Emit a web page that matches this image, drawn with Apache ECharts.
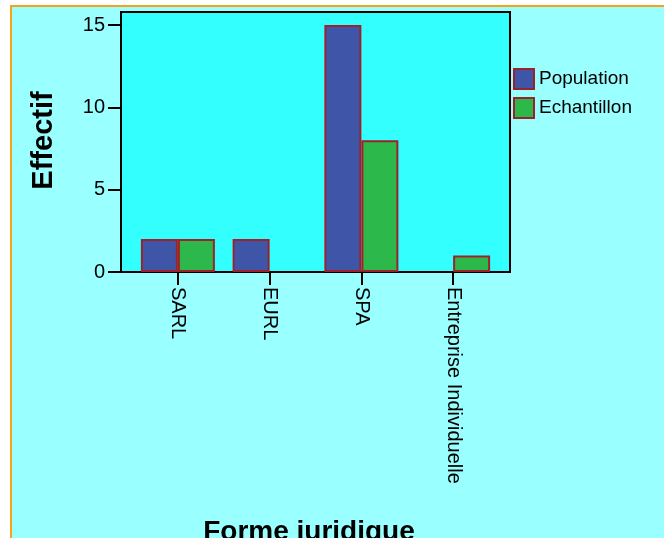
<!DOCTYPE html>
<html>
<head>
<meta charset="utf-8">
<script src="https://cdn.jsdelivr.net/npm/echarts@6/dist/echarts.min.js"></script>
<style>
html,body{margin:0;padding:0;background:#ffffff;width:664px;height:538px;overflow:hidden;}
#wrap{position:absolute;left:10px;top:5px;width:660px;height:540px;background:#99ffff;border-left:2px solid #f7a21b;border-top:2px solid #f7a21b;}
#chart{position:absolute;left:0;top:0;width:664px;height:538px;}
</style>
</head>
<body>
<div id="wrap"></div>
<div id="chart"></div>
<script>
var categories = ['SARL', 'EURL', 'SPA', 'Entreprise Individuelle'];
var population = [2, 2, 15, null];
var echantillon = [2, null, 8, 1];
var seriesNames = ['Population', 'Echantillon'];
var yTitle = 'Effectif';
var xTitle = 'Forme juridique';

var FONT = 'Liberation Sans, Arial, sans-serif';
var chart = echarts.init(document.getElementById('chart'), null, {renderer: 'canvas'});
chart.setOption({
  backgroundColor: 'transparent',
  animation: false,
  textStyle: {fontFamily: FONT},
  grid: [
    {left: 121, right: 154, top: 12, bottom: 266, show: true, backgroundColor: '#33ffff', borderColor: '#000', borderWidth: 2, z: 0, containLabel: false, outerBoundsMode: 'none'},
    {left: 132, right: 165, top: 25, bottom: 266, show: false, containLabel: false, outerBoundsMode: 'none'}
  ],
  legend: {
    orient: 'vertical', left: 508, top: 63,
    itemWidth: 20, itemHeight: 20, itemGap: 7,
    icon: 'rect',
    textStyle: {fontSize: 19, color: '#000', fontFamily: FONT},
    data: seriesNames
  },
  xAxis: [
    {gridIndex: 0, type: 'value', show: false, min: 0, max: 1},
    {
      gridIndex: 1, type: 'category', data: categories,
      name: xTitle, nameLocation: 'middle', nameGap: 246,
      nameTextStyle: {fontSize: 28, fontWeight: 'bold', color: '#000', fontFamily: FONT, padding: [0, 13, 0, 0]},
      axisLine: {show: false},
      axisTick: {show: true, alignWithLabel: true, length: 13, lineStyle: {color: '#000', width: 2}},
      axisLabel: {rotate: -90, fontSize: 20, color: '#000', margin: 15, fontFamily: FONT}
    }
  ],
  yAxis: [
    {gridIndex: 0, type: 'value', show: false, min: 0, max: 1},
    {
      gridIndex: 1, type: 'value', min: 0, max: 15, interval: 5, offset: 11,
      name: yTitle, nameLocation: 'middle', nameGap: 63,
      nameTextStyle: {fontSize: 29, fontWeight: 'bold', color: '#000', fontFamily: FONT, padding: [0, 0, 0, 16]},
      axisLine: {show: false},
      splitLine: {show: false},
      axisTick: {show: true, length: 13, lineStyle: {color: '#000', width: 2}},
      axisLabel: {fontSize: 20, color: '#000', margin: 16, fontFamily: FONT}
    }
  ],
  series: [
    {
      name: seriesNames[0], type: 'bar', xAxisIndex: 1, yAxisIndex: 1,
      data: population, barWidth: 37, barGap: '0%',
      itemStyle: {color: '#3f56a8', borderColor: '#a0202a', borderWidth: 2}
    },
    {
      name: seriesNames[1], type: 'bar', xAxisIndex: 1, yAxisIndex: 1,
      data: echantillon, barWidth: 37, barGap: '0%',
      itemStyle: {color: '#2db84b', borderColor: '#a0202a', borderWidth: 2}
    }
  ]
});
</script>
</body>
</html>
